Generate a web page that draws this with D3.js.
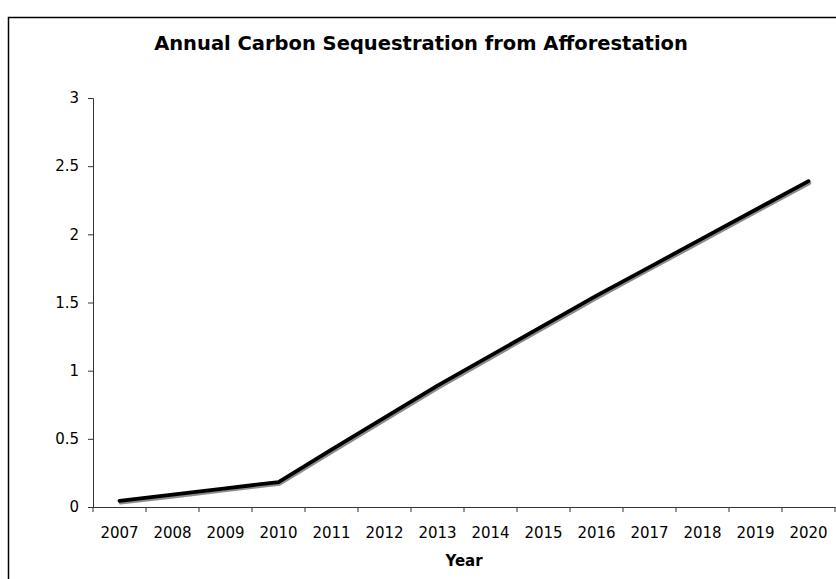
<!DOCTYPE html>
<html>
<head>
<meta charset="utf-8">
<script src="https://cdn.jsdelivr.net/npm/d3@7"></script>
<style>
  html, body { margin: 0; padding: 0; background: #fff; }
  svg { display: block; }
</style>
</head>
<body>
<svg id="chart" width="836" height="579"></svg>
<script>
const years = ["2007","2008","2009","2010","2011","2012","2013","2014","2015","2016","2017","2018","2019","2020"];
const sequestration = [0.045, 0.09, 0.137, 0.183, 0.42, 0.655, 0.89, 1.11, 1.33, 1.55, 1.76, 1.97, 2.18, 2.39];
const yTicks = [0, 0.5, 1, 1.5, 2, 2.5, 3];
const yTickLabels = ["0", "0.5", "1", "1.5", "2", "2.5", "3"];
const chartTitle = "Annual Carbon Sequestration from Afforestation";
const xTitle = "Year";

const svg = d3.select("#chart");
const font = "'DejaVu Sans', Verdana, sans-serif";

// outer chart border
svg.append("rect")
  .attr("x", 8.5).attr("y", 17.5)
  .attr("width", 860).attr("height", 600)
  .attr("fill", "none").attr("stroke", "#000").attr("stroke-width", 1.5);

const mLeft = 93, mRight = 835, mTop = 98, mBottom = 507;

const x = d3.scaleBand().domain(years).range([mLeft, mRight]).padding(0);
const y = d3.scaleLinear().domain([0, 3]).range([mBottom, mTop]);

// title
svg.append("text")
  .attr("x", 421).attr("y", 50)
  .attr("text-anchor", "middle")
  .attr("font-family", font).attr("font-weight", "bold").attr("font-size", 19.5)
  .text(chartTitle);

// y axis
const yAxis = svg.append("g")
  .attr("transform", `translate(${mLeft},0)`)
  .call(d3.axisLeft(y).tickValues(yTicks).tickSize(5).tickPadding(9)
    .tickFormat((d, i) => yTickLabels[i]));
yAxis.select(".domain").attr("stroke", "#333");
yAxis.selectAll(".tick line").attr("stroke", "#333");
yAxis.selectAll("text").attr("font-family", font).attr("font-size", 15).attr("fill", "#000");

// x axis with ticks between categories
const xAxis = svg.append("g")
  .attr("transform", `translate(0,${mBottom})`)
  .call(d3.axisBottom(x).tickSize(0).tickPadding(20));
xAxis.select(".domain").attr("stroke", "#333");
xAxis.selectAll("text").attr("font-family", font).attr("font-size", 15).attr("fill", "#000");
const bounds = years.map(d => x(d)).concat([x(years[years.length - 1]) + x.bandwidth()]);
xAxis.selectAll(".bound")
  .data(bounds)
  .enter().append("line")
  .attr("class", "bound")
  .attr("x1", d => d).attr("x2", d => d)
  .attr("y1", 0).attr("y2", 5)
  .attr("stroke", "#333");

// x axis title
svg.append("text")
  .attr("x", (mLeft + mRight) / 2).attr("y", 566)
  .attr("text-anchor", "middle")
  .attr("font-family", font).attr("font-weight", "bold").attr("font-size", 15)
  .text(xTitle);

const line = d3.line()
  .x((d, i) => x(years[i]) + x.bandwidth() / 2)
  .y(d => y(d));

// shadow
svg.append("path")
  .datum(sequestration)
  .attr("d", line)
  .attr("transform", "translate(1,2)")
  .attr("fill", "none")
  .attr("stroke", "#8c8c8c")
  .attr("stroke-width", 3.5)
  .attr("stroke-linejoin", "round")
  .attr("stroke-linecap", "round");

svg.append("path")
  .datum(sequestration)
  .attr("d", line)
  .attr("fill", "none")
  .attr("stroke", "#000")
  .attr("stroke-width", 3.8)
  .attr("stroke-linejoin", "round")
  .attr("stroke-linecap", "round");
</script>
</body>
</html>
